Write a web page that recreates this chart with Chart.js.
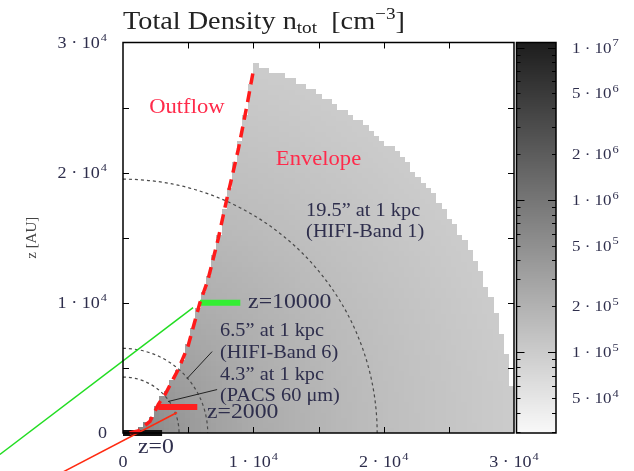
<!DOCTYPE html>
<html>
<head>
<meta charset="utf-8">
<script src="https://cdn.jsdelivr.net/npm/chart.js@4.4.1/dist/chart.umd.min.js"></script>
<style>
  html, body { margin: 0; padding: 0; background: #fff; }
  #wrap { width: 634px; height: 471px; }
</style>
</head>
<body>
<div id="wrap"><canvas id="density" width="634" height="471"></canvas></div>
<script>
// axis ticks (AU) and colour bar ticks (cm^-3)
const axisTicks = [0, 10000, 20000, 30000];
const cbTicks = [1e7, 5e6, 2e6, 1e6, 5e5, 2e5, 1e5, 5e4];
const cbMin = 2.94e4;
const cbMax = 1.08e7;

// radial density profile of the envelope
const profR = [1000, 2000, 4000, 7000, 10000, 15000, 20000, 25000, 30000];
const profN = [7.5e5, 5.8e5, 4.3e5, 3.1e5, 2.45e5, 1.85e5, 1.45e5, 1.2e5, 1.0e5];
const envR = 30000;
const cellSize = 400;

// outflow cavity wall: x of the wall at height z
const wallZ = [0, 150, 900, 2200, 3000, 4900, 6700, 10000, 11700, 14900, 17900, 21800, 25100, 28100];
const wallX = [500, 1150, 2070, 2710, 3250, 4250, 5000, 5900, 6500, 7300, 7950, 8850, 9500, 10050];

// beam radii (AU)
const beamR = [19500, 6500, 4300];

// cut heights and the bars marking them
const cutZ = [0, 2000, 10000];
const cutX0 = [0, 2700, 5900];
const cutX1 = [3000, 5700, 9000];
const cutColor = ['#111111', '#ff1f1f', '#33ee33'];

const serif = '"Liberation Serif", "DejaVu Serif", serif';
const textCol = '#2e2e4c';
const WIDE = 1.13; // horizontal stretch for the serif text

function interp(xs, ys, v) {
    if (v <= xs[0]) return ys[0];
    for (let i = 1; i < xs.length; i++) {
        if (v <= xs[i]) {
            const t = (v - xs[i - 1]) / (xs[i] - xs[i - 1]);
            return ys[i - 1] + t * (ys[i] - ys[i - 1]);
        }
    }
    return ys[ys.length - 1];
}

function densityAt(r) {
    const lr = profR.map(Math.log10);
    const ln = profN.map(Math.log10);
    return Math.pow(10, interp(lr, ln, Math.log10(Math.max(r, 1))));
}

function grayFor(n) {
    let t = (Math.log10(n) - Math.log10(cbMin)) / (Math.log10(cbMax) - Math.log10(cbMin));
    t = Math.min(1, Math.max(0, t));
    const g = Math.round(249 - t * 220);
    return `rgb(${g},${g},${g})`;
}

// measure / draw text with a slight horizontal stretch
function textW(ctx, t, size) {
    ctx.font = `${size}px ${serif}`;
    return ctx.measureText(t).width * WIDE;
}
function putText(ctx, t, x, y, size, align) {
    const w = textW(ctx, t, size);
    let x0 = x;
    if (align === 'right') x0 = x - w;
    else if (align === 'center') x0 = x - w / 2;
    ctx.save();
    ctx.textAlign = 'left';
    ctx.translate(x0, y);
    ctx.scale(WIDE, 1);
    ctx.fillText(t, 0, 0);
    ctx.restore();
    return w;
}

function drawSci(ctx, v, x, y, align, size) {
    ctx.textBaseline = 'alphabetic';
    if (v === 0) {
        putText(ctx, '0', x, y, size, align);
        return;
    }
    const e = Math.floor(Math.log10(v) + 1e-9);
    const m = Math.round(v / Math.pow(10, e));
    const base = m + ' · 10';
    const ex = String(e);
    const small = Math.round(size * 0.7);
    const wb = textW(ctx, base, size);
    const we = textW(ctx, ex, small);
    const w = wb + we + 1;
    let x0 = x;
    if (align === 'right') x0 = x - w;
    else if (align === 'center') x0 = x - w / 2;
    putText(ctx, base, x0, y, size, 'left');
    putText(ctx, ex, x0 + wb + 1, y - size * 0.42, small, 'left');
}

const densityPlugin = {
    id: 'densityMap',
    beforeDatasetsDraw(chart) {
        const {ctx, chartArea: a, scales: {x, y}} = chart;
        ctx.save();
        ctx.beginPath();
        ctx.rect(a.left, a.top, a.right - a.left, a.bottom - a.top);
        ctx.clip();
        // envelope cells
        const nCells = Math.ceil(envR / cellSize);
        for (let i = 0; i < nCells; i++) {
            for (let j = 0; j < nCells; j++) {
                const xc = (i + 0.5) * cellSize;
                const zc = (j + 0.5) * cellSize;
                const r = Math.hypot(xc, zc);
                if (r > envR) continue;
                if (xc < interp(wallZ, wallX, zc)) continue;
                const px0 = Math.floor(x.getPixelForValue(i * cellSize));
                const px1 = Math.ceil(x.getPixelForValue((i + 1) * cellSize));
                const py0 = Math.floor(y.getPixelForValue((j + 1) * cellSize));
                const py1 = Math.ceil(y.getPixelForValue(j * cellSize));
                ctx.fillStyle = grayFor(densityAt(r));
                ctx.fillRect(px0, py0, px1 - px0, py1 - py0);
            }
        }
        // beam circles
        ctx.strokeStyle = '#4a4a4a';
        ctx.lineWidth = 1.2;
        ctx.setLineDash([3, 3]);
        const ox = x.getPixelForValue(0), oy = y.getPixelForValue(0);
        beamR.forEach(r => {
            const rx = x.getPixelForValue(r) - ox;
            const ry = oy - y.getPixelForValue(r);
            ctx.beginPath();
            ctx.ellipse(ox, oy, rx, ry, 0, -Math.PI / 2, 0);
            ctx.stroke();
        });
        ctx.restore();
    },
    afterDatasetsDraw(chart) {
        const {ctx, chartArea: a, scales: {x, y}} = chart;
        ctx.save();
        // frame with inward ticks
        ctx.strokeStyle = '#000';
        ctx.lineWidth = 1.5;
        ctx.setLineDash([]);
        ctx.strokeRect(a.left, a.top, a.right - a.left, a.bottom - a.top);
        ctx.lineWidth = 1;
        for (let v = 5000; v < 30000; v += 5000) {
            const px = Math.round(x.getPixelForValue(v)) + 0.5;
            const py = Math.round(y.getPixelForValue(v)) + 0.5;
            ctx.beginPath();
            ctx.moveTo(px, a.bottom); ctx.lineTo(px, a.bottom - 6);
            ctx.moveTo(px, a.top); ctx.lineTo(px, a.top + 6);
            ctx.moveTo(a.left, py); ctx.lineTo(a.left + 6, py);
            ctx.moveTo(a.right, py); ctx.lineTo(a.right - 6, py);
            ctx.stroke();
        }
        // tick labels
        ctx.fillStyle = textCol;
        axisTicks.forEach(v => {
            drawSci(ctx, v, x.getPixelForValue(v), 467, 'center', 16);
            drawSci(ctx, v, 107, y.getPixelForValue(v) + 5, 'right', 16);
        });

        // region names
        ctx.fillStyle = '#ff2a4a';
        ctx.textBaseline = 'middle';
        putText(ctx, 'Outflow', x.getPixelForValue(4900), y.getPixelForValue(25000), 20, 'center');
        putText(ctx, 'Envelope', x.getPixelForValue(15000), y.getPixelForValue(21000), 20, 'center');

        // beam notes
        ctx.fillStyle = textCol;
        const notes = [
            ['19.5” at 1 kpc', 14050, 17000], ['(HIFI-Band 1)', 14050, 15400],
            ['6.5” at 1 kpc', 7450, 7800], ['(HIFI-Band 6)', 7450, 6100],
            ['4.3” at 1 kpc', 7450, 4400], ['(PACS 60 μm)', 7450, 2800]
        ];
        notes.forEach(([t, vx, vy]) => putText(ctx, t, x.getPixelForValue(vx), y.getPixelForValue(vy), 18, 'left'));
        putText(ctx, 'z=10000', x.getPixelForValue(9600), y.getPixelForValue(10000), 21, 'left');
        putText(ctx, 'z=2000', x.getPixelForValue(6450), y.getPixelForValue(1600), 21, 'left');
        putText(ctx, 'z=0', x.getPixelForValue(1150), y.getPixelForValue(-1100), 21, 'left');
        ctx.restore();
    },
    afterDraw(chart) {
        const {ctx, chartArea: a, scales: {cb}} = chart;
        ctx.save();
        // colour bar
        const bl = a.right + 2.5, br = a.right + 42;
        for (let py = Math.floor(a.top); py < a.bottom; py++) {
            ctx.fillStyle = grayFor(cb.getValueForPixel(py + 0.5));
            ctx.fillRect(bl, py, br - bl, 1);
        }
        ctx.strokeStyle = '#000';
        ctx.lineWidth = 1.5;
        ctx.strokeRect(bl, a.top, br - bl, a.bottom - a.top);
        ctx.lineWidth = 1;
        for (let e = 4; e <= 7; e++) {
            for (let m = 1; m <= 9; m++) {
                const v = m * Math.pow(10, e);
                if (v <= cbMin || v >= cbMax) continue;
                const py = Math.round(cb.getPixelForValue(v)) + 0.5;
                const len = m === 1 ? 8 : 4;
                ctx.beginPath();
                ctx.moveTo(bl, py); ctx.lineTo(bl + len, py);
                ctx.moveTo(br, py); ctx.lineTo(br - len, py);
                ctx.stroke();
            }
        }
        ctx.fillStyle = textCol;
        cbTicks.forEach(v => drawSci(ctx, v, a.right + 58, cb.getPixelForValue(v) + 5, 'left', 15));

        // title: Total Density n_tot [cm^-3]
        ctx.fillStyle = '#222';
        ctx.textBaseline = 'alphabetic';
        let tx = 123;
        const ty = 29;
        const parts = [['Total Density n', 25, 0], ['tot', 17, 4], ['  [cm', 25, 0], ['−3', 17, -10], [']', 25, 0]];
        parts.forEach(([t, s, dy]) => {
            tx += putText(ctx, t, tx, ty + dy, s, 'left');
        });
        ctx.restore();
    }
};

const lineSet = (data, color, width, extra) => Object.assign({
    type: 'line', data, borderColor: color, borderWidth: width,
    pointRadius: 0, fill: false, tension: 0, clip: false
}, extra || {});

const wallData = wallZ.map((z, i) => ({x: wallX[i], y: z}));
const cutSets = cutZ.map((z, i) => lineSet([{x: cutX0[i], y: z}, {x: cutX1[i], y: z}], cutColor[i], 6));

new Chart(document.getElementById('density'), {
    type: 'scatter',
    data: {
        datasets: [
            lineSet(wallData, '#ff1a1a', 3.5, {borderDash: [11, 7], borderCapStyle: 'butt'}),
            // pointers from the 6.5" and 4.3" beams to their notes
            lineSet([{x: 6836, y: 6255}, {x: 4916, y: 4183}], '#222', 1),
            lineSet([{x: 7220, y: 3338}, {x: 3456, y: 2418}], '#222', 1),
            // pointers leading out of the panel from the cut bars
            lineSet([{x: 5376, y: 9632}, {x: -9447, y: -1650}], '#22dd22', 1.5),
            lineSet([{x: 4147, y: 1573}, {x: -4900, y: -3150}], '#ff2a10', 1.5),
            ...cutSets
        ]
    },
    options: {
        responsive: false,
        animation: false,
        layout: {padding: {top: 42.5, left: 0, right: 0, bottom: 0}},
        plugins: {legend: {display: false}, tooltip: {enabled: false}},
        scales: {
            x: {
                type: 'linear', min: 0, max: 30000, position: 'bottom',
                grid: {display: false, drawTicks: false}, border: {display: false},
                ticks: {display: false},
                afterFit: s => { s.height = 38; }
            },
            y: {
                type: 'linear', min: 0, max: 30000, position: 'left',
                grid: {display: false, drawTicks: false}, border: {display: false},
                ticks: {display: false},
                title: {display: true, text: 'z [AU]', color: '#444', font: {family: serif, size: 15}, padding: {top: 23, bottom: 0}},
                afterFit: s => { s.width = 123; }
            },
            cb: {
                type: 'logarithmic', min: cbMin, max: cbMax, position: 'right',
                grid: {display: false, drawTicks: false}, border: {display: false},
                ticks: {display: false},
                afterFit: s => { s.width = 120; }
            }
        }
    },
    plugins: [densityPlugin]
});
</script>
</body>
</html>
